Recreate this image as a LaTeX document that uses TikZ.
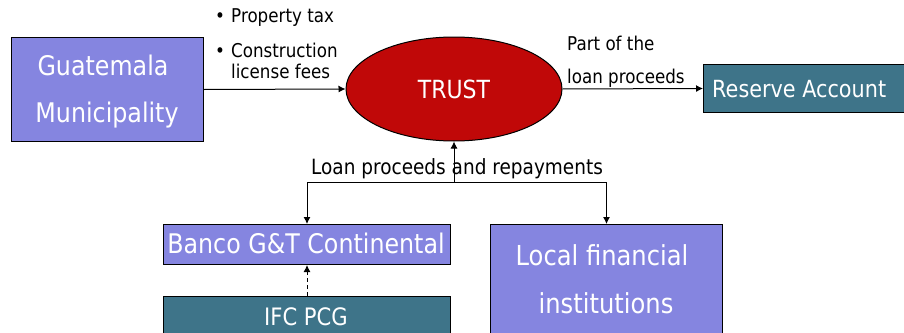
\documentclass[tikz,border=0pt]{standalone}
\usepackage{fontspec}
\setmainfont{DejaVu Sans}[FakeStretch=0.88]
\usetikzlibrary{shapes.geometric,arrows.meta}
\definecolor{lavfill}{HTML}{8585E0}
\definecolor{tealfill}{HTML}{3E7489}
\definecolor{trustred}{HTML}{C00808}
\newcommand{\fs}[1]{\fontsize{#1}{#1}\selectfont}
\begin{document}
\begin{tikzpicture}[x=1pt,y=-1pt,
  boxbase/.style={draw=black, line width=1pt, anchor=north west, inner sep=0pt},
  lavbox/.style={boxbase, fill=lavfill},
  tealbox/.style={boxbase, fill=tealfill},
  wtxt/.style={text=white, anchor=base, inner sep=0pt, font=\fs{25}},
  btxt/.style={text=black, anchor=base west, inner sep=0pt, font=\fs{19}},
  arr/.style={-{Latex[length=7pt,width=7pt]}, line width=1pt},
]
\clip (0,0) rectangle (904,332);
\fill[white] (0,0) rectangle (904,332);

% boxes
\node[lavbox, minimum width=192pt, minimum height=104pt] (gm) at (11,37) {};
\node[ellipse, draw=black, line width=1pt, fill=trustred, inner sep=0pt,
      minimum width=216pt, minimum height=104pt] (trust) at (454,89) {};
\node[tealbox, minimum width=210pt, minimum height=48pt] (ra) at (703,64) {};
\node[lavbox, minimum width=287pt, minimum height=40pt] (banco) at (163,224) {};
\node[tealbox, minimum width=287pt, minimum height=60pt] (ifc) at (163,296) {};
\node[lavbox, minimum width=232pt, minimum height=120pt] (local) at (490,224) {};

% texts inside shapes
\node[wtxt, font=\fs{27}] (gm1) at (103,75) {Guatemala};
\node[wtxt, font=\fs{27}] (gm2) at (107,122) {Municipality};
\node[wtxt] (trusttxt) at (454,98) {TRUST};
\node[wtxt, anchor=base west, font=\fs{23.6}] (ratxt) at (712,97) {Reserve Account};
\node[wtxt, font=\fs{27}] (bancotxt) at (306,253) {Banco G\&T Continental};
\node[wtxt, font=\fs{24}] (ifctxt) at (306,325) {IFC PCG};
\node[wtxt, font=\fs{27.5}] (local1) at (602,265) {Local financial};
\node[wtxt, font=\fs{27.5}] (local2) at (606,313) {institutions};

% labels
\node[btxt] (l1) at (215,23) {\makebox[16pt][l]{•}Property tax};
\node[btxt] (l2) at (215,57) {\makebox[16pt][l]{•}Construction};
\node[btxt] (l3) at (231,78) {license fees};
\node[btxt] (l4) at (567,50) {Part of the};
\node[btxt] (l5) at (567,83) {loan proceeds};
\node[btxt, anchor=base, font=\fs{21}] (l6) at (457,174) {Loan proceeds and repayments};

% connectors
\coordinate (j) at (454,182);
\draw[arr] (gm.east) -- (trust.west);
\draw[arr] (trust.east) -- (ra.west);
\draw[arr] (j) -- (trust.south);
\draw[arr] (j) -| (banco.north);
\draw[arr] (j) -| (local.north);
\draw[arr, dash pattern=on 4pt off 3pt] (ifc.north) -- (banco.south);
\end{tikzpicture}
\end{document}
